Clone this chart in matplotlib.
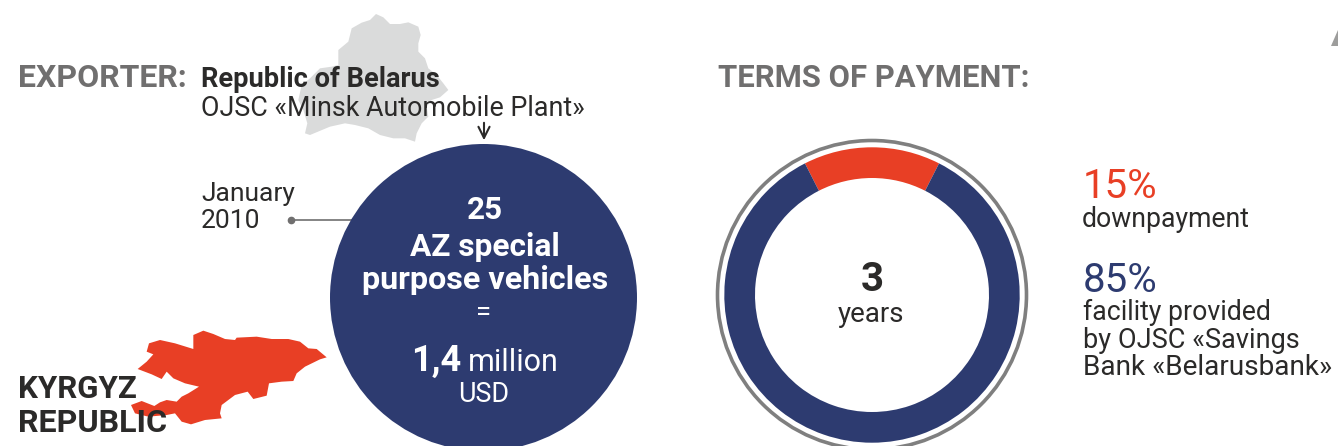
import matplotlib
matplotlib.use("Agg")
import matplotlib.pyplot as plt
from matplotlib.patches import Circle, Polygon

plt.rcParams["font.family"] = ["Roboto", "DejaVu Sans"]

NAVY = "#2d3b70"
RED = "#e83f25"
GREY = "#706f6f"
DARK = "#2b2a29"
MAP_GREY = "#dadbdb"

W, H = 1338, 446

# loan terms
payment_labels = ["downpayment", "facility"]
payment_shares = [15, 85]
payment_colors = [RED, NAVY]
term_years = "3"

# deal summary
vehicle_count = "25"
vehicle_lines = ["AZ special", "purpose vehicles"]
deal_amount = "1,4"
deal_unit = "million"
deal_currency = "USD"

# country outlines, in thirds of a pixel from each map's own origin
belarus = [(258, 12), (280, 22), (300, 42), (330, 42), (355, 37), (385, 50), (392, 75), (385, 100),
           (385, 125), (405, 145), (415, 175), (440, 195), (460, 220), (475, 240), (450, 262),
           (425, 270), (410, 290), (415, 320), (395, 340), (380, 370), (375, 395), (345, 385),
           (310, 385), (270, 375), (235, 355), (195, 345), (165, 340), (120, 350), (60, 375),
           (45, 370), (52, 340), (40, 300), (25, 270), (35, 225), (60, 205), (90, 175), (125, 170),
           (145, 165), (145, 120), (175, 95), (185, 55), (215, 38), (240, 30)]
kyrgyz = [(205, 30), (235, 17), (265, 27), (300, 42), (330, 45), (335, 38), (395, 35), (440, 42),
          (490, 42), (525, 50), (550, 70), (575, 72), (605, 97), (585, 103), (540, 125), (515, 145),
          (505, 168), (470, 170), (432, 175), (425, 212), (385, 222), (368, 200), (330, 210),
          (290, 240), (285, 265), (290, 280), (240, 285), (198, 298), (170, 290), (150, 265),
          (125, 270), (70, 275), (30, 265), (18, 240), (50, 228), (88, 243), (105, 232), (125, 225),
          (155, 230), (170, 215), (190, 205), (222, 185), (180, 175), (145, 160), (125, 140),
          (110, 162), (80, 148), (38, 132), (65, 110), (85, 88), (65, 80), (72, 55), (105, 45),
          (150, 55), (205, 72)]

fig = plt.figure(figsize=(W / 100, H / 100), dpi=100, facecolor="white")
ax = fig.add_axes([0, 0, 1, 1])
ax.set_xlim(0, W)
ax.set_ylim(H, 0)
ax.axis("off")


def label(x, y, s, size, color=DARK, weight="normal", ha="left"):
    ax.text(x, y, s, fontsize=size, color=color, fontweight=weight, ha=ha, va="baseline", zorder=5)


# maps
ax.add_patch(Polygon([(x / 3 + 290, y / 3 + 10) for x, y in belarus], fc=MAP_GREY, ec="none", zorder=1))
ax.add_patch(Polygon([(x / 3 + 125, y / 3 + 325) for x, y in kyrgyz], fc=RED, ec="none", zorder=1))
ax.add_patch(Polygon([(1338, 30), (1338, 46), (1331, 46)], fc="#9d9d9c", ec="none", zorder=1))

# big circle
ax.add_patch(Circle((483.5, 297.5), 153.5, fc=NAVY, ec="none", zorder=2))
ax.annotate("", xy=(484, 143), xytext=(484, 120),
            arrowprops=dict(arrowstyle="->", color=DARK, lw=1.5, mutation_scale=20), zorder=3)
ax.plot([291, 352], [220, 220], color=GREY, lw=1.2, zorder=1)
ax.plot([291], [220], "o", color=GREY, ms=4.5, zorder=1)

# left column text
label(18, 87, "EXPORTER:", 23, GREY, "bold")
label(201, 87, "Republic of Belarus", 19.6, DARK, "bold")
label(201, 116, "OJSC «Minsk Automobile Plant»", 19.4)
label(201, 201, "January", 19)
label(201, 228, "2010", 19)
label(18, 398, "KYRGYZ", 22.5, DARK, "bold")
label(18, 432, "REPUBLIC", 23.2, DARK, "bold")

label(485, 219, vehicle_count, 22.6, "white", "bold", "center")
label(485, 256, vehicle_lines[0], 22.8, "white", "bold", "center")
label(485, 289, vehicle_lines[1], 23.2, "white", "bold", "center")
label(484, 320, "=", 20, "white", "normal", "center")
label(411, 371, deal_amount, 26, "white", "bold")
label(468, 371, deal_unit, 22, "white")
label(484, 402, deal_currency, 19.4, "white", "normal", "center")

# right column text
label(718, 87, "TERMS OF PAYMENT:", 22.3, GREY, "bold")
label(872, 291, term_years, 29, DARK, "bold", "center")
label(871, 322, "years", 20, DARK, "normal", "center")
label(1083, 198, f"{payment_shares[0]}%", 29, RED)
label(1082, 227, payment_labels[0], 19.2)
label(1083, 292, f"{payment_shares[1]}%", 29, NAVY)
label(1083, 320, "facility provided", 19.2)
label(1083, 348, "by OJSC «Savings", 19.5)
label(1083, 375, "Bank «Belarusbank»", 20.2)

# payment donut, the downpayment slice centred on top
cx, cy, ring_r = 872, 295, 155
span = ring_r + 3
donut = fig.add_axes([(cx - span) / W, 1 - (cy + span) / H, 2 * span / W, 2 * span / H])
donut.set_facecolor("none")
donut.pie(payment_shares, colors=payment_colors, radius=147.7, center=(0, 0),
          startangle=90 - payment_shares[0] * 1.8, counterclock=True,
          wedgeprops=dict(width=30.7, linewidth=0), frame=True)
donut.add_patch(Circle((0, 0), 154.5, fc="none", ec="#7f7f7f", lw=2.6))
donut.set_xlim(-span, span)
donut.set_ylim(-span, span)
donut.axis("off")

fig.savefig("out.png", dpi=100, facecolor="white")
